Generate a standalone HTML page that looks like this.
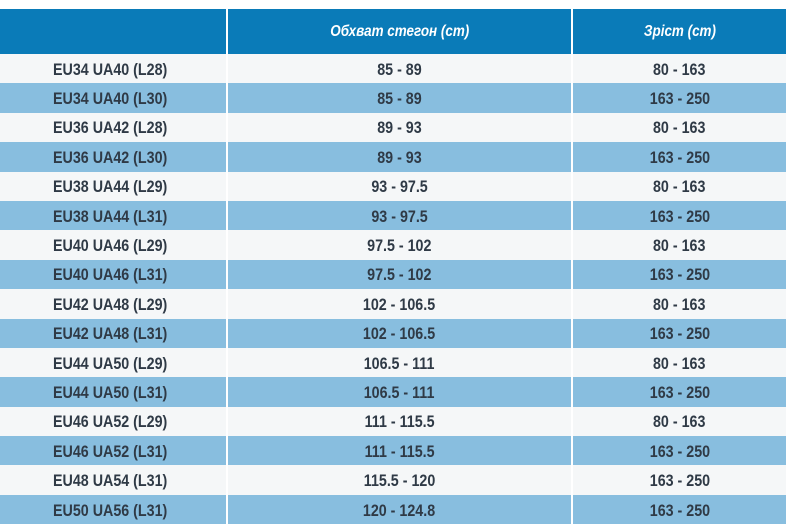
<!DOCTYPE html>
<html><head><meta charset="utf-8"><style>
body{margin:0;width:786px;height:532px;background:#fff;overflow:hidden;font-family:"Liberation Sans",sans-serif;}
.t{position:absolute;left:0;top:9px;width:786px;}
.r{display:flex;height:29.4px;}
.c{box-sizing:border-box;display:flex;align-items:center;color:#2f3a46;font-size:17px;font-weight:bold;padding-top:2px;}
.c span{display:inline-block;transform:scaleX(0.84);}
.c1{width:226px;padding-left:53px;}
.c1 span{transform-origin:left center;}
.c2{width:343px;margin-left:2px;justify-content:center;}
.c3{width:213px;margin-left:2px;justify-content:center;}
.w .c{background:#f5f7f8;}
.b .c{background:#88bedf;}
.h{height:45px;}
.h .c{background:#0a7bb8;color:#fff;font-style:italic;font-weight:bold;font-size:16px;padding-top:0;}
</style></head><body><div class="t">
<div class="r h"><div class="c c1"></div><div class="c c2"><span>Обхват стегон (cm)</span></div><div class="c c3"><span>Зріст (cm)</span></div></div>
<div class="r w"><div class="c c1"><span>EU34 UA40 (L28)</span></div><div class="c c2"><span>85 - 89</span></div><div class="c c3"><span>80 - 163</span></div></div>
<div class="r b"><div class="c c1"><span>EU34 UA40 (L30)</span></div><div class="c c2"><span>85 - 89</span></div><div class="c c3"><span>163 - 250</span></div></div>
<div class="r w"><div class="c c1"><span>EU36 UA42 (L28)</span></div><div class="c c2"><span>89 - 93</span></div><div class="c c3"><span>80 - 163</span></div></div>
<div class="r b"><div class="c c1"><span>EU36 UA42 (L30)</span></div><div class="c c2"><span>89 - 93</span></div><div class="c c3"><span>163 - 250</span></div></div>
<div class="r w"><div class="c c1"><span>EU38 UA44 (L29)</span></div><div class="c c2"><span>93 - 97.5</span></div><div class="c c3"><span>80 - 163</span></div></div>
<div class="r b"><div class="c c1"><span>EU38 UA44 (L31)</span></div><div class="c c2"><span>93 - 97.5</span></div><div class="c c3"><span>163 - 250</span></div></div>
<div class="r w"><div class="c c1"><span>EU40 UA46 (L29)</span></div><div class="c c2"><span>97.5 - 102</span></div><div class="c c3"><span>80 - 163</span></div></div>
<div class="r b"><div class="c c1"><span>EU40 UA46 (L31)</span></div><div class="c c2"><span>97.5 - 102</span></div><div class="c c3"><span>163 - 250</span></div></div>
<div class="r w"><div class="c c1"><span>EU42 UA48 (L29)</span></div><div class="c c2"><span>102 - 106.5</span></div><div class="c c3"><span>80 - 163</span></div></div>
<div class="r b"><div class="c c1"><span>EU42 UA48 (L31)</span></div><div class="c c2"><span>102 - 106.5</span></div><div class="c c3"><span>163 - 250</span></div></div>
<div class="r w"><div class="c c1"><span>EU44 UA50 (L29)</span></div><div class="c c2"><span>106.5 - 111</span></div><div class="c c3"><span>80 - 163</span></div></div>
<div class="r b"><div class="c c1"><span>EU44 UA50 (L31)</span></div><div class="c c2"><span>106.5 - 111</span></div><div class="c c3"><span>163 - 250</span></div></div>
<div class="r w"><div class="c c1"><span>EU46 UA52 (L29)</span></div><div class="c c2"><span>111 - 115.5</span></div><div class="c c3"><span>80 - 163</span></div></div>
<div class="r b"><div class="c c1"><span>EU46 UA52 (L31)</span></div><div class="c c2"><span>111 - 115.5</span></div><div class="c c3"><span>163 - 250</span></div></div>
<div class="r w"><div class="c c1"><span>EU48 UA54 (L31)</span></div><div class="c c2"><span>115.5 - 120</span></div><div class="c c3"><span>163 - 250</span></div></div>
<div class="r b"><div class="c c1"><span>EU50 UA56 (L31)</span></div><div class="c c2"><span>120 - 124.8</span></div><div class="c c3"><span>163 - 250</span></div></div>
</div></body></html>
